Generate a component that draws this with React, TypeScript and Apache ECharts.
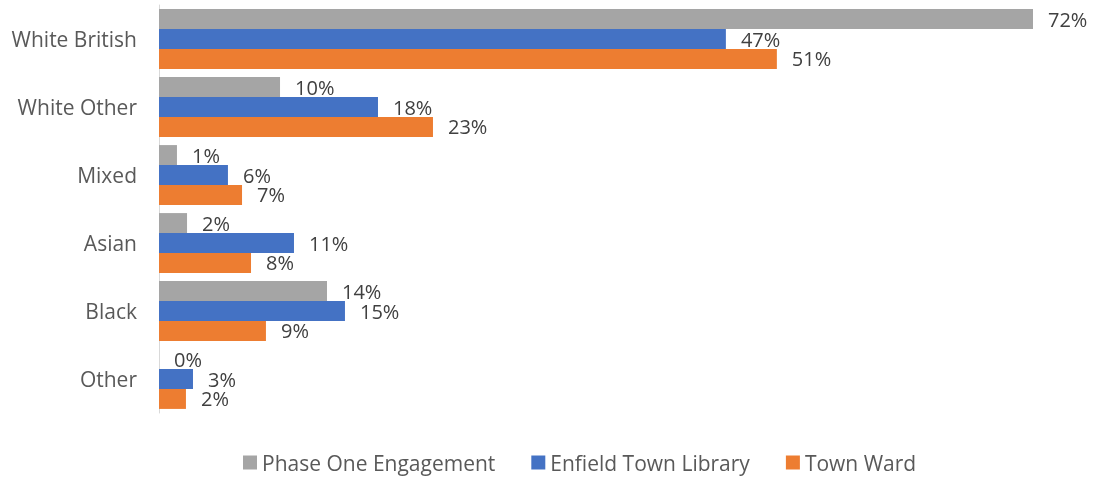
import React, { useEffect, useRef } from "react";
import * as echarts from "echarts";

const categories = ["White British", "White Other", "Mixed", "Asian", "Black", "Other"];
const phaseOne = [72.0, 9.97, 1.48, 2.31, 13.84, 0];
const library = [46.7, 18.04, 5.68, 11.12, 15.32, 2.8];
const townWard = [50.9, 22.57, 6.84, 7.58, 8.81, 2.22];
const seriesNames = ["Phase One Engagement", "Enfield Town Library", "Town Ward"];
const colors = ["#A5A5A5", "#4472C4", "#ED7D31"];

const FONT = "Open Sans";

export default function App() {
  const ref = useRef<HTMLDivElement>(null);
  useEffect(() => {
    if (!ref.current) return;
    const chart = echarts.init(ref.current, null, { renderer: "svg" });
    const label = {
      show: true,
      position: "right",
      distance: 15,
      formatter: (p: any) => `${Math.round(p.value)}%`,
      fontSize: 20,
      lineHeight: 19,
      fontFamily: FONT,
      color: "#404040",
    };
    const datasets = [phaseOne, library, townWard];
    chart.setOption({
      animation: false,
      color: colors,
      grid: { left: 159, right: 61, top: 5, bottom: 64, containLabel: false },
      xAxis: {
        type: "value",
        min: 0,
        max: 72,
        show: false,
      },
      yAxis: {
        type: "category",
        data: categories,
        inverse: true,
        axisLine: { show: true, lineStyle: { color: "#D9D9D9", width: 1 } },
        axisTick: { show: false },
        axisLabel: { fontSize: 21, fontFamily: FONT, color: "#595959", margin: 22 },
      },
      legend: {
        bottom: -1,
        left: 238,
        itemWidth: 14,
        itemHeight: 14,
        itemGap: 36,
        icon: "rect",
        textStyle: { fontSize: 21, fontFamily: FONT, color: "#595959" },
        data: seriesNames,
      },
      series: datasets.map((d, i) => ({
        name: seriesNames[i],
        type: "bar",
        data: d,
        barGap: "0%",
        barCategoryGap: "12%",
        label,
        itemStyle: { color: colors[i] },
      })),
    });
    return () => chart.dispose();
  }, []);
  return (
    <div
      ref={ref}
      style={{ position: "fixed", left: 0, top: 0, width: 1094, height: 477 }}
    />
  );
}
